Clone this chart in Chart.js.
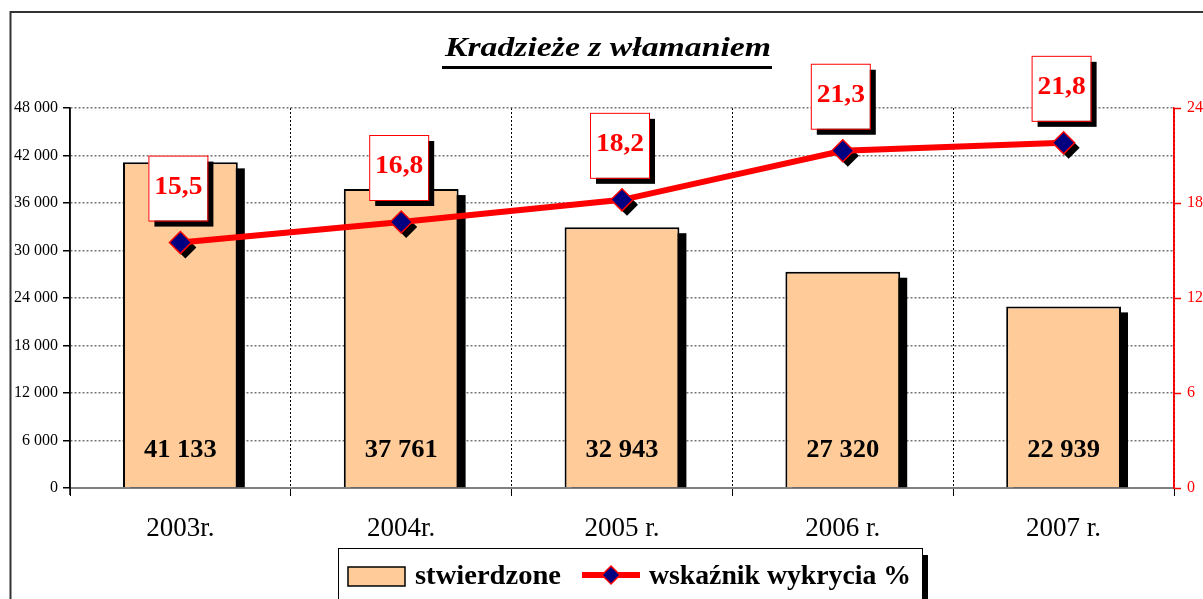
<!DOCTYPE html>
<html>
<head>
<meta charset="utf-8">
<script src="https://cdn.jsdelivr.net/npm/chart.js@4.4.0/dist/chart.umd.min.js"></script>
<style>
    html, body { margin: 0; padding: 0; background: #fff; }
    #wrap { width: 1203px; height: 599px; }
</style>
</head>
<body>
<div id="wrap"><canvas id="chart" width="1203" height="599"></canvas></div>
<script>
const years = ['2003r.', '2004r.', '2005 r.', '2006 r.', '2007 r.'];
const stwierdzone = [41133, 37761, 32943, 27320, 22939];
const wskaznik = [15.5, 16.8, 18.2, 21.3, 21.8];
const leftMax = 48000, leftStep = 6000;
const rightMax = 24, rightStep = 6;

const SERIF = '"Liberation Serif", "DejaVu Serif", serif';
const fmtThousands = v => String(v).replace(/\B(?=(\d{3})+(?!\d))/g, ' ');
const fmtComma = v => v.toFixed(1).replace('.', ',');

// text stretched horizontally, the original font is wider than Times
function drawText(ctx, text, x, y, font, color, align, sx) {
    ctx.save();
    ctx.font = font;
    ctx.fillStyle = color;
    ctx.textBaseline = 'alphabetic';
    ctx.textAlign = 'left';
    const w = ctx.measureText(text).width * sx;
    const left = align === 'center' ? x - w / 2 : x;
    ctx.translate(left, y);
    ctx.scale(sx, 1);
    ctx.fillText(text, 0, 0);
    ctx.restore();
    return w;
}

// same, but fitted to a given width
function drawTextW(ctx, text, x, y, font, color, width) {
    ctx.save();
    ctx.font = font;
    const w = ctx.measureText(text).width;
    ctx.restore();
    drawText(ctx, text, x, y, font, color, 'left', width / w);
}

function diamond(ctx, x, y, r) {
    ctx.beginPath();
    ctx.moveTo(x, y - r);
    ctx.lineTo(x + r, y);
    ctx.lineTo(x, y + r);
    ctx.lineTo(x - r, y);
    ctx.closePath();
}

const framePlugin = {
    id: 'frame',
    beforeDraw(chart) {
        const ctx = chart.ctx;
        ctx.save();
        ctx.fillStyle = '#fff';
        ctx.fillRect(0, 0, chart.width, chart.height);
        ctx.strokeStyle = '#333';
        ctx.lineWidth = 2;
        ctx.beginPath();
        ctx.moveTo(10.5, chart.height);
        ctx.lineTo(10.5, 12);
        ctx.lineTo(chart.width, 12);
        ctx.stroke();
        ctx.restore();
    },
    afterDraw(chart) {
        const ctx = chart.ctx;
        const area = chart.chartArea;

        // solid value axes
        ctx.save();
        ctx.setLineDash([]);
        ctx.lineWidth = 1.5;
        ctx.strokeStyle = '#000';
        ctx.beginPath();
        ctx.moveTo(chart.scales.y.right, area.top);
        ctx.lineTo(chart.scales.y.right, area.bottom + 7);
        ctx.stroke();
        ctx.strokeStyle = '#FF0000';
        ctx.beginPath();
        ctx.moveTo(chart.scales.y1.left, area.top);
        ctx.lineTo(chart.scales.y1.left, area.bottom);
        ctx.stroke();
        ctx.restore();

        // title
        drawTextW(ctx, 'Kradzieże z włamaniem', 445, 56, 'bold italic 28px ' + SERIF, '#000', 326);
        ctx.save();
        ctx.fillStyle = '#000';
        ctx.fillRect(442, 66, 330, 3);
        ctx.restore();

        // legend
        ctx.save();
        ctx.fillStyle = '#000';
        ctx.fillRect(344, 555, 584, 50);
        ctx.fillStyle = '#fff';
        ctx.fillRect(338, 548, 584, 52);
        ctx.strokeStyle = '#000';
        ctx.lineWidth = 1;
        ctx.strokeRect(338.5, 548.5, 584, 52);
        ctx.fillStyle = '#FFCC99';
        ctx.fillRect(348, 567, 57, 19);
        ctx.lineWidth = 1.5;
        ctx.strokeRect(348, 567, 57, 19);
        ctx.strokeStyle = '#FF0000';
        ctx.lineWidth = 6;
        ctx.beginPath();
        ctx.moveTo(582, 575);
        ctx.lineTo(640, 575);
        ctx.stroke();
        diamond(ctx, 611, 575, 9);
        ctx.fillStyle = '#000080';
        ctx.fill();
        ctx.lineWidth = 1.5;
        ctx.stroke();
        ctx.restore();
        const lf = 'bold 27px ' + SERIF;
        drawTextW(ctx, 'stwierdzone', 415, 584, lf, '#000', 146);
        drawTextW(ctx, 'wskaźnik wykrycia %', 649, 584, lf, '#000', 262);
    }
};

const shadowPlugin = {
    id: 'shadows',
    beforeDatasetDraw(chart, args) {
        const ctx = chart.ctx;
        const meta = chart.getDatasetMeta(args.index);
        ctx.save();
        ctx.fillStyle = '#000';
        if (meta.type === 'bar') {
            meta.data.forEach(el => {
                const p = el.getProps(['x', 'y', 'base', 'width'], true);
                ctx.fillRect(p.x - p.width / 2 + 7, p.y + 6, p.width, p.base - p.y - 6);
            });
        } else {
            meta.data.forEach(el => {
                diamond(ctx, el.x + 5, el.y + 5, 11);
                ctx.fill();
            });
        }
        ctx.restore();
    }
};

const labelPlugin = {
    id: 'valueLabels',
    afterDatasetsDraw(chart) {
        const ctx = chart.ctx;
        const bars = chart.getDatasetMeta(1);
        bars.data.forEach((el, i) => {
            const p = el.getProps(['x', 'base'], true);
            drawText(ctx, fmtThousands(stwierdzone[i]), p.x, p.base - 30,
                'bold 26px ' + SERIF, '#000', 'center', 1.02);
        });
        const line = chart.getDatasetMeta(0);
        line.data.forEach((el, i) => {
            const bx = el.x - 32, by = el.y - 87;
            ctx.save();
            ctx.fillStyle = '#000';
            ctx.fillRect(bx + 6, by + 6, 59, 65);
            ctx.fillStyle = '#fff';
            ctx.fillRect(bx, by, 59, 65);
            ctx.strokeStyle = '#FF0000';
            ctx.lineWidth = 1;
            ctx.strokeRect(bx + 0.5, by + 0.5, 59, 65);
            ctx.restore();
            drawText(ctx, fmtComma(wskaznik[i]), bx + 30, by + 38,
                'bold 26px ' + SERIF, '#FF0000', 'center', 1.06);
        });
    }
};

new Chart(document.getElementById('chart').getContext('2d'), {
    data: {
        labels: years,
        datasets: [{
            type: 'line',
            label: 'wskaźnik wykrycia %',
            data: wskaznik,
            yAxisID: 'y1',
            order: 0,
            borderColor: '#FF0000',
            borderWidth: 6,
            tension: 0,
            pointStyle: 'rectRot',
            pointRadius: 11,
            pointHoverRadius: 11,
            pointBackgroundColor: '#000080',
            pointBorderColor: '#FF0000',
            pointBorderWidth: 1.5
        }, {
            type: 'bar',
            label: 'stwierdzone',
            data: stwierdzone,
            yAxisID: 'y',
            order: 1,
            backgroundColor: '#FFCC99',
            borderColor: '#000',
            borderWidth: 2,
            categoryPercentage: 1,
            barPercentage: 0.52
        }]
    },
    options: {
        responsive: false,
        animation: false,
        devicePixelRatio: 1,
        layout: { padding: { top: 108, left: 0, right: 0, bottom: 0 } },
        plugins: {
            legend: { display: false },
            title: { display: false },
            tooltip: { enabled: false }
        },
        scales: {
            x: {
                offset: true,
                grid: {
                    offset: true,
                    // the outer lines are the two value axes
                    color: c => (c.index === 0 || c.index === years.length) ? 'rgba(0,0,0,0)' : '#000',
                    lineWidth: 1,
                    tickLength: 8,
                    tickColor: '#000'
                },
                border: { color: '#808080', width: 2, dash: [2, 2] },
                ticks: {
                    color: '#000',
                    font: { family: SERIF, size: 27 },
                    padding: 17,
                    maxRotation: 0,
                    autoSkip: false
                },
                afterFit(scale) { scale.height = 111; }
            },
            y: {
                position: 'left',
                min: 0,
                max: leftMax,
                grid: {
                    color: '#777',
                    lineWidth: 1.5,
                    tickLength: 7,
                    tickColor: '#000',
                    tickWidth: 1.5
                },
                border: { color: '#000', width: 1.5, dash: [2, 2] },
                ticks: {
                    stepSize: leftStep,
                    color: '#000',
                    font: { family: SERIF, size: 16 },
                    padding: 5,
                    callback: v => fmtThousands(v)
                },
                afterFit(scale) { scale.width = 70; }
            },
            y1: {
                position: 'right',
                min: 0,
                max: rightMax,
                grid: {
                    drawOnChartArea: false,
                    tickLength: 7,
                    tickColor: '#FF0000',
                    tickWidth: 1.5
                },
                border: { color: '#FF0000', width: 1.5 },
                ticks: {
                    stepSize: rightStep,
                    color: '#FF0000',
                    font: { family: SERIF, size: 16 },
                    padding: 6
                },
                afterFit(scale) { scale.width = 29; }
            }
        }
    },
    plugins: [framePlugin, shadowPlugin, labelPlugin]
});
</script>
</body>
</html>
